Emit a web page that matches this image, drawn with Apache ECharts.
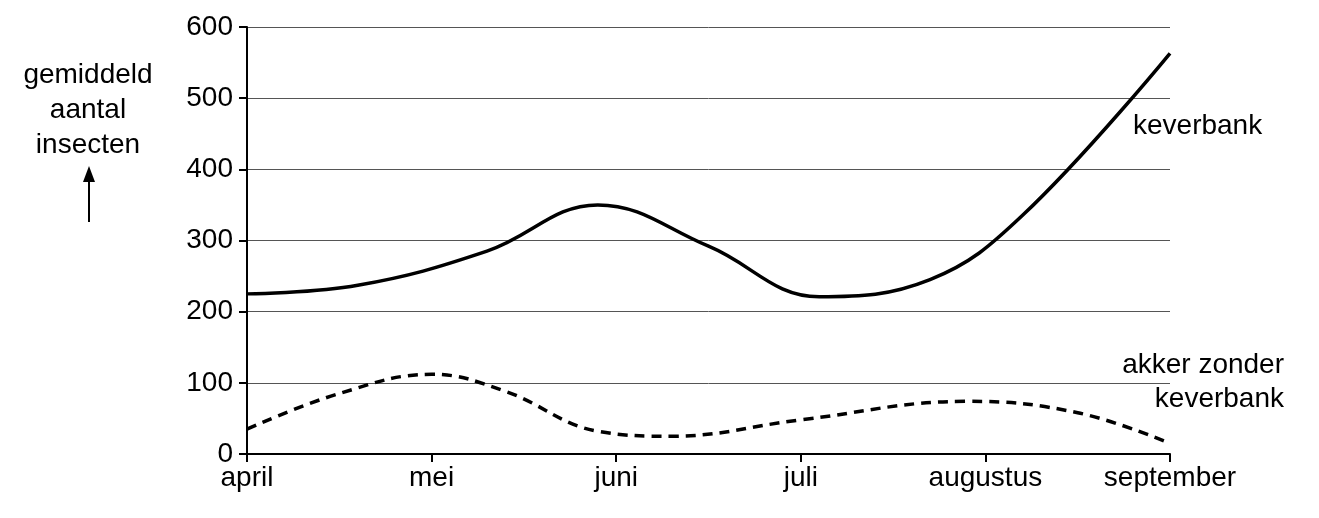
<!DOCTYPE html>
<html><head><meta charset="utf-8">
<script src="https://cdn.jsdelivr.net/npm/echarts@6/dist/echarts.min.js"></script>
<style>html,body{margin:0;background:#fff}#c{width:1319px;height:518px}</style>
</head><body><div id="c"></div>
<script>
const months = ['april','mei','juni','juli','augustus','september'];
const yTicks = [0,100,200,300,400,500,600];
const keverbank = [[0,225],[0.6,237],[1.3,285],[1.9,350],[2.5,292],[3.1,221],[3.7,245],[4.2,335],[5,563]];
const zonder = [[0,35],[0.5,85],[1,112],[1.4,88],[1.9,32],[2.3,25],[3,48],[3.9,74],[4.5,58],[5,15]];
const ch = echarts.init(document.getElementById('c'));
const f = 'Liberation Sans, Arial, sans-serif';
ch.setOption({
  animation:false,
  grid:{left:247,right:149,top:27,bottom:64},
  xAxis:{type:'value',min:0,max:5,interval:1,
    axisLine:{lineStyle:{color:'#000',width:2}},axisTick:{show:true,length:8,lineStyle:{color:'#000',width:2}},
    splitLine:{show:false},
    axisLabel:{color:'#000',fontSize:28,fontFamily:f,margin:10,formatter:v=>months[v]}},
  yAxis:{type:'value',min:0,max:600,interval:100,
    axisLine:{show:true,lineStyle:{color:'#000',width:2}},axisTick:{show:true,length:8,lineStyle:{color:'#000',width:2}},
    splitLine:{lineStyle:{color:'#555',width:1}},
    axisLabel:{color:'#000',fontSize:28,fontFamily:f,margin:14,formatter:v=>yTicks.includes(v)?String(v):''}},
  series:[
    {type:'line',data:keverbank,smooth:0.4,symbol:'none',lineStyle:{color:'#000',width:3.5}},
    {type:'line',data:zonder,smooth:0.4,symbol:'none',lineStyle:{color:'#000',width:3.5,type:[10,7]}}
  ],
  graphic:[
    {type:'text',x:88,y:58,style:{text:'gemiddeld\naantal\ninsecten',font:'28px '+f,fill:'#000',lineHeight:35,align:'center'}},
    {type:'line',shape:{x1:89,y1:222,x2:89,y2:172},style:{stroke:'#000',lineWidth:2}},
    {type:'polygon',shape:{points:[[83,182],[89,166],[95,182]]},style:{fill:'#000'}},
    {type:'text',x:1133,y:112,style:{text:'keverbank',font:'28px '+f,fill:'#000'}},
    {type:'text',x:1284,y:348,style:{text:'akker zonder\nkeverbank',font:'28px '+f,fill:'#000',align:'right',lineHeight:34}}
  ]
});
</script></body></html>
